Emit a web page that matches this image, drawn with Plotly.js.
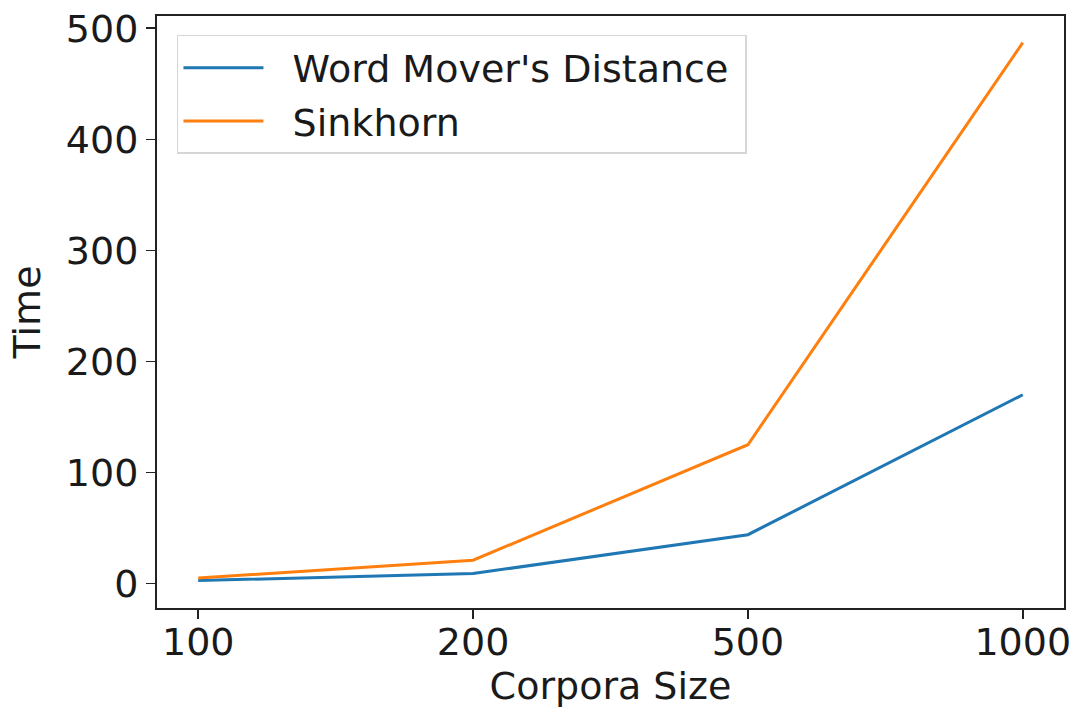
<!DOCTYPE html>
<html>
<head>
<meta charset="utf-8">
<script src="https://cdn.plot.ly/plotly-3.0.1.min.js"></script>
<style>html,body{margin:0;padding:0;background:#fff;}</style>
</head>
<body>
<div id="chart" style="width:1073px;height:710px;"></div>
<script>
const corporaSizes = ["100", "200", "500", "1000"];
const wmdTime = [2.7, 9, 44, 170];
const sinkhornTime = [5, 21, 125, 487];
const seriesNames = ["Word Mover's Distance", "Sinkhorn"];

const font = {family: "DejaVu Sans, sans-serif", size: 38, color: "#1a1a1a"};

const traces = [
  {x: corporaSizes, y: wmdTime, name: "\u00a0\u00a0" + seriesNames[0] + "\u00a0", legendgroup: "a",
   type: "scatter", mode: "lines", line: {color: "#1f77b4", width: 3}},
  {x: corporaSizes, y: sinkhornTime, name: "\u00a0\u00a0" + seriesNames[1], legendgroup: "b",
   type: "scatter", mode: "lines", line: {color: "#ff7f0e", width: 3}}
];

const layout = {
  width: 1073, height: 710,
  margin: {l: 157, r: 9, t: 16, b: 102},
  paper_bgcolor: "#fff", plot_bgcolor: "#fff",
  font: font,
  showlegend: true,
  legend: {x: 0.022, y: 0.968, xanchor: "left", yanchor: "top",
    bgcolor: "rgba(255,255,255,0.8)", bordercolor: "#d6d6d6", borderwidth: 1.5,
    font: font, itemwidth: 80, tracegroupgap: 1, traceorder: "grouped"},
  xaxis: {type: "category", range: [-0.15, 3.15], showgrid: false, zeroline: false,
    showline: true, linecolor: "#222", linewidth: 2, mirror: true,
    ticks: "outside", ticklen: 9, tickwidth: 1.5, tickcolor: "#222",
    tickfont: font, automargin: false, ticklabelstandoff: -10,
    title: {text: "Corpora Size", font: font, standoff: 8}},
  yaxis: {range: [-22, 511], showgrid: false, zeroline: false,
    showline: true, linecolor: "#222", linewidth: 2, mirror: true,
    ticks: "outside", ticklen: 9, tickwidth: 1.5, tickcolor: "#222",
    tickvals: [0, 100, 200, 300, 400, 500],
    tickfont: font, automargin: false,
    title: {text: "Time", font: font, standoff: 14}}
};

Plotly.newPlot("chart", traces, layout, {displayModeBar: false, staticPlot: true});
</script>
</body>
</html>
